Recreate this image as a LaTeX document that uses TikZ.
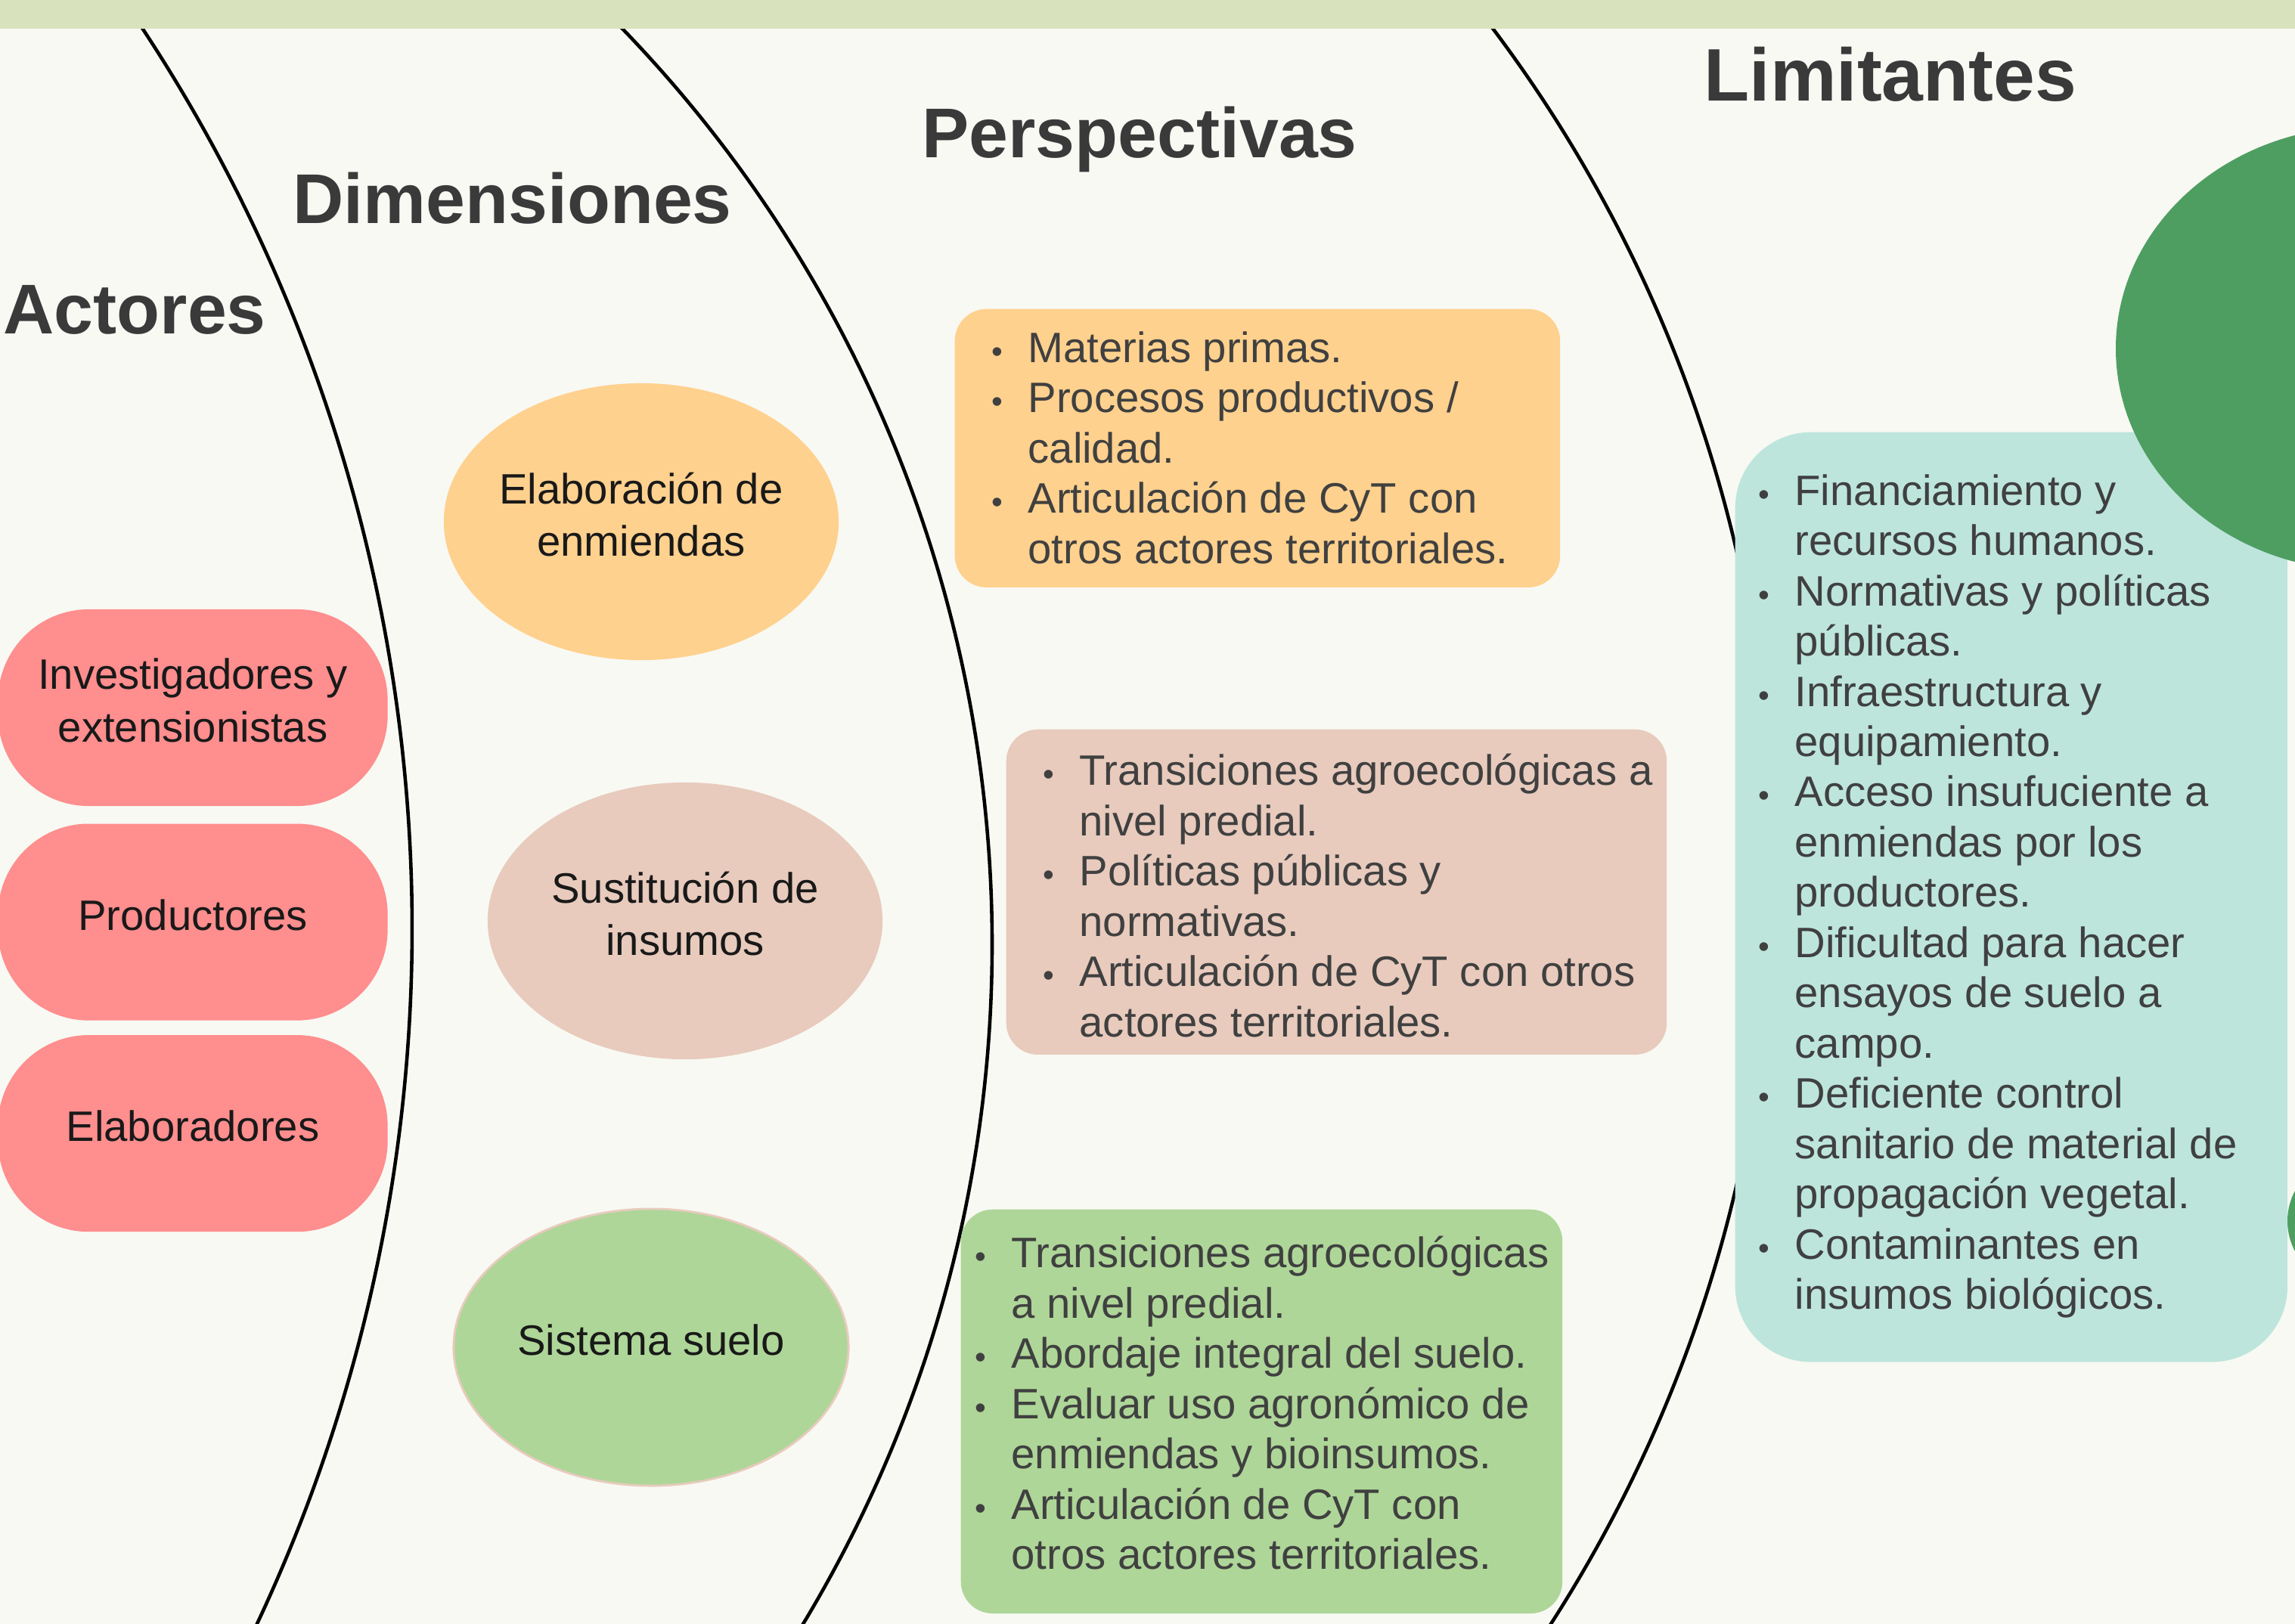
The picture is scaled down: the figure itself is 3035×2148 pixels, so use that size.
\documentclass[tikz,border=0pt]{standalone}
\usepackage{fontspec}
\setmainfont{Liberation Sans}
\usepackage{graphicx}
\usetikzlibrary{shapes.geometric,positioning}

\definecolor{fondo}{HTML}{F8F9F3}
\definecolor{banda}{HTML}{D8E3BD}
\definecolor{rosa}{HTML}{FF8E8E}
\definecolor{naranja}{HTML}{FFD18E}
\definecolor{beige}{HTML}{E8CBBD}
\definecolor{verdeclaro}{HTML}{AED698}
\definecolor{celeste}{HTML}{BDE5DC}
\definecolor{verdeoscuro}{HTML}{4E9E62}
\definecolor{gristitulo}{HTML}{3A3A3A}
\definecolor{gristexto}{HTML}{404040}

\newcommand{\bul}{\makebox[8pt]{\scalebox{0.75}{\textbullet}}}

\tikzset{
    encabezado/.style={anchor=base west, inner sep=0pt, text=gristitulo, font=\fontsize{26.5}{30}\selectfont\bfseries},
    actor/.style={fill=rosa, rounded corners=1.2cm, minimum width=5.15cm, minimum height=2.6cm, inner sep=0pt, align=center, text depth=5.6pt, text=black!90, font=\fontsize{16}{19.8}\selectfont},
    dimension/.style={ellipse, minimum width=5.22cm, minimum height=3.66cm, inner sep=0pt},
    dimtexto/.style={inner sep=0pt, align=center, text depth=5.6pt, text=black!90, font=\fontsize{16}{19.8}\selectfont},
    caja/.style={rounded corners=0.42cm, inner sep=0pt, anchor=north west},
    lista/.style={anchor=west, inner sep=0pt, text=gristexto, font=\fontsize{16}{18.9}\selectfont},
    arco/.style={line width=1.3pt, black}
}

\begin{document}
\begin{tikzpicture}[x=0.01cm,y=-0.01cm]
\useasboundingbox (0,0) rectangle (3035,2148);
\clip (0,0) rectangle (3035,2148);
\fill[fondo] (0,0) rectangle (3035,2148);

% arcos
\coordinate (c1) at (-1620,1228);
\coordinate (c2) at (-431,1248.5);
\coordinate (c3) at (495.6,1148);
\draw[arco] (c1) ++(-35:2165) arc[start angle=-35, end angle=27, radius=2165];
\draw[arco] (c2) ++(-46:1743) arc[start angle=-46, end angle=33, radius=1743];
\draw[arco] (c3) ++(-39:1849) arc[start angle=-39, end angle=35, radius=1849];
\fill[banda] (0,0) rectangle (3035,38);

% titulos
\node[encabezado] (actores) at (4,441) {Actores};
\node[encabezado] (dimensiones) at (387,295) {Dimensiones};
\node[encabezado] (perspectivas) at (1219,208) {Perspectivas};
\node[encabezado, font=\fontsize{28}{32}\selectfont\bfseries] (limitantes) at (2253,133) {Limitantes};

% actores
\node[actor] (inv) at (255,936) {Investigadores y\\extensionistas};
\node[actor, below=0.22cm of inv] (prod) {Productores};
\node[actor, below=0.18cm of prod] (elab) {Elaboradores};

% dimensiones
\node[dimension, fill=naranja] (enm) at (848,690) {};
\node[dimtexto] (enmtxt) at (enm) {Elaboración de\\enmiendas};
\node[dimension, fill=beige] (sust) at (906,1218) {};
\node[dimtexto] (susttxt) at (sust) {Sustitución de\\insumos};
\node[dimension, fill=verdeclaro, draw=beige, line width=0.8pt] (suelo) at (861,1782) {};
\node[dimtexto] (suelotxt) at (suelo) {Sistema suelo};

% perspectivas
\node[caja, fill=naranja, minimum width=8cm, minimum height=3.68cm] (persp1) at (1262,408) {};
\node[lista] (persp1txt) at ([xshift=0.42cm,yshift=-0.06cm]persp1.west) {\begin{tabular}{@{}l@{\hspace{7.6pt}}l@{}}
\bul & Materias primas.\\
\bul & Procesos productivos /\\
     & calidad.\\
\bul & Articulación de CyT con\\
     & otros actores territoriales.
\end{tabular}};

\node[caja, fill=beige, minimum width=8.73cm, minimum height=4.3cm] (persp2) at (1330,964) {};
\node[lista] (persp2txt) at ([xshift=0.42cm,yshift=-0.12cm]persp2.west) {\begin{tabular}{@{}l@{\hspace{7.6pt}}l@{}}
\bul & Transiciones agroecológicas a\\
     & nivel predial.\\
\bul & Políticas públicas y\\
     & normativas.\\
\bul & Articulación de CyT con otros\\
     & actores territoriales.
\end{tabular}};

\node[caja, fill=verdeclaro, minimum width=7.95cm, minimum height=5.34cm] (persp3) at (1270,1599) {};
\node[lista] (persp3txt) at ([xshift=0.12cm,yshift=0.04cm]persp3.west) {\begin{tabular}{@{}l@{\hspace{7.6pt}}l@{}}
\bul & Transiciones agroecológicas\\
     & a nivel predial.\\
\bul & Abordaje integral del suelo.\\
\bul & Evaluar uso agronómico de\\
     & enmiendas y bioinsumos.\\
\bul & Articulación de CyT con\\
     & otros actores territoriales.
\end{tabular}};

% limitantes
\node[caja, rounded corners=1cm, fill=celeste, minimum width=7.3cm, minimum height=12.29cm] (limit) at (2294,571) {};
\node[lista] (limittxt) at ([xshift=0.24cm]limit.west) {\begin{tabular}{@{}l@{\hspace{7.6pt}}l@{}}
\bul & Financiamiento y\\
     & recursos humanos.\\
\bul & Normativas y políticas\\
     & públicas.\\
\bul & Infraestructura y\\
     & equipamiento.\\
\bul & Acceso insufuciente a\\
     & enmiendas por los\\
     & productores.\\
\bul & Dificultad para hacer\\
     & ensayos de suelo a\\
     & campo.\\
\bul & Deficiente control\\
     & sanitario de material de\\
     & propagación vegetal.\\
\bul & Contaminantes en\\
     & insumos biológicos.
\end{tabular}};

\fill[verdeoscuro] (3128,461) ellipse [x radius=330, y radius=294];
\fill[verdeoscuro] (3110,1615) circle [radius=85];
\end{tikzpicture}
\end{document}
